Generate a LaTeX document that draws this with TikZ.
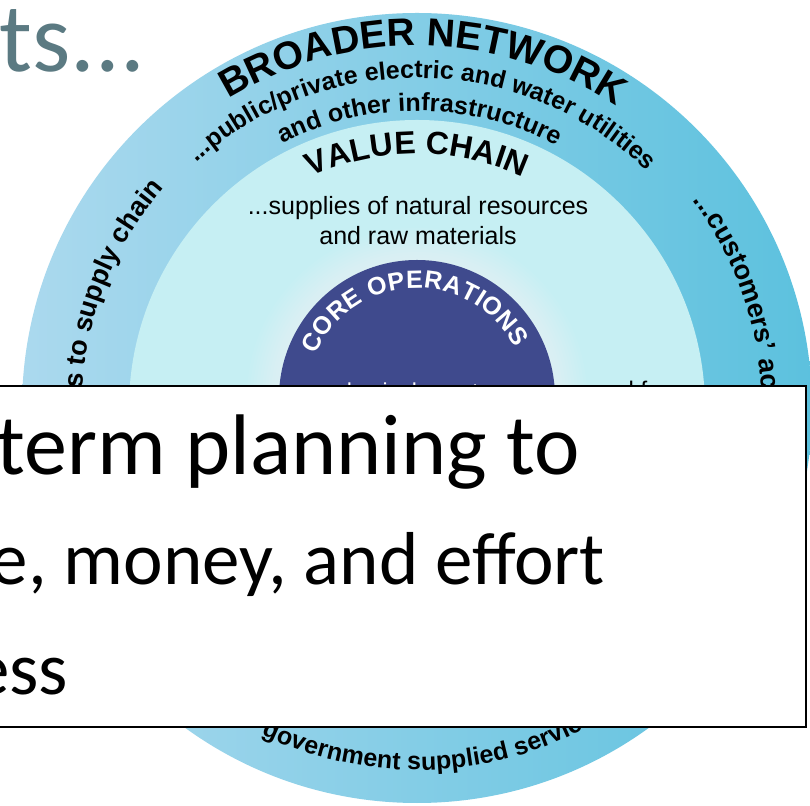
\documentclass[tikz,border=0pt]{standalone}
\usepackage{fontspec}
\setmainfont{Liberation Sans}
\newfontfamily\slidefont{Carlito}
\usetikzlibrary{decorations.text}
\definecolor{ringblue}{HTML}{5CC1DE}
\definecolor{ringlight}{HTML}{ABD9EE}
\definecolor{chainblue}{HTML}{C6EFF3}
\definecolor{corenavy}{HTML}{3F4A8D}
\definecolor{titlegray}{HTML}{5B7A82}
\newcommand\ringfont[1]{\fontsize{#1}{#1}\selectfont\bfseries}
\tikzset{every node/.style={inner sep=0pt,outer sep=0pt}}
\tikzset{arctext/.style={decorate,decoration={text along path,text align=center,text={#1}}}}
\tikzset{fittext/.style={decorate,decoration={text along path,text align={fit to path},text={#1}}}}
\tikzset{plain/.style={font=\fontsize{25}{25}\selectfont}}

\begin{document}
\begin{tikzpicture}[x=1pt,y=1pt]
  \useasboundingbox (0,0) rectangle (810,805);
  \clip (0,0) rectangle (810,805);
  \fill[white] (0,0) rectangle (810,805);
  \coordinate (c) at (417,397);
  \coordinate (k) at (417,407);
  % slide title
  \node[anchor=base east,text=titlegray,font=\slidefont\fontsize{98}{98}\selectfont] (title) at (145,733) {ts...};
  % rings
  \shade[left color=ringlight,right color=ringblue] (c) circle[radius=395];
  \fill[chainblue] (c) circle[radius=288];
  \foreach \r in {140,143,...,170}
    \fill[white,opacity=0.05] (k) circle[radius=\r];
  \fill[corenavy] (k) circle[radius=138];
  % ring labels
  \path[arctext={|\ringfont{39}|BROADER NETWORK}] (c) ++(122:362) arc[start angle=122,end angle=56,radius=362];
  \path[fittext={|\ringfont{25}|...public/private electric and water utilities}] (c) ++(132:330) arc[start angle=132,end angle=46,radius=330];
  \path[fittext={|\ringfont{25}|and other infrastructure}] (c) ++(117:297) arc[start angle=117,end angle=62,radius=297];
  \path[decorate,decoration={text along path,text align=right,text={|\ringfont{27}|s to supply chain}}] (c) ++(200:335) arc[start angle=200,end angle=139,radius=335];
  \path[decorate,decoration={text along path,text align=left,text={|\ringfont{27}|...customers’ ac}}] (c) ++(37:345) arc[start angle=37,end angle=-20,radius=345];
  \path[fittext={|\ringfont{25}|government supplied servic}] (c) ++(244.5:362) arc[start angle=244.5,end angle=297.5,radius=362];
  \path[arctext={|\ringfont{32}|VALUE CHAIN}] (c) ++(120:254) arc[start angle=120,end angle=60,radius=254];
  \node[plain,anchor=base] (sup1) at (418,590) {...supplies of natural resources};
  \node[plain,anchor=base] (sup2) at (418,560) {and raw materials};
  \path[fittext={|\ringfont{25}\color{white}|CORE OPERATIONS}] (k) ++(157:110) arc[start angle=157,end angle=27,radius=110];
  \node[plain,anchor=base,text=white,font=\fontsize{23}{23}\selectfont] (phys) at (412,405) {physical assets};
  \node[plain,anchor=base,font=\fontsize{24}{24}\selectfont] (work) at (642,406) {workforce};
  % overlay box
  \draw[line width=1.5pt,fill=white] (-5,78) rectangle (806,419);
  \node[anchor=base east,font=\slidefont\fontsize{86}{86}\selectfont] (l1) at (580,330) {term planning to};
  \node[anchor=base east,font=\slidefont\fontsize{75}{75}\selectfont] (l2) at (605,220) {e, money, and effort};
  \node[anchor=base east,font=\slidefont\fontsize{75}{75}\selectfont] (l3) at (68,110) {ess};
\end{tikzpicture}
\end{document}
